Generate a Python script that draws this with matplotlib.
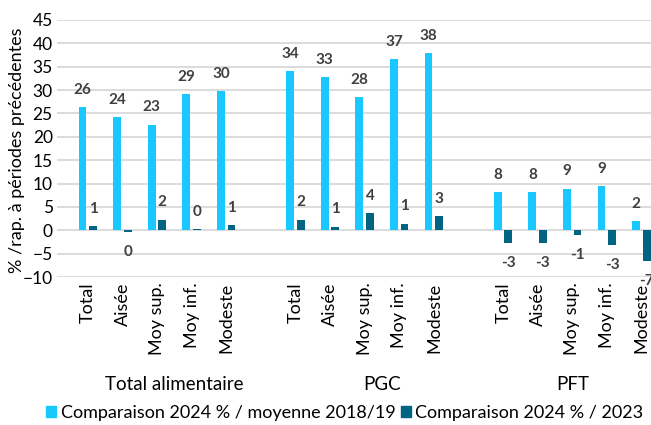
import matplotlib
matplotlib.use("Agg")
import matplotlib.pyplot as plt
import matplotlib.transforms as mtransforms
from matplotlib.patches import Patch
import numpy as np

plt.rcParams['font.family'] = ['Lato', 'DejaVu Sans']

groups = ["Total alimentaire", "PGC", "PFT"]
categories = ["Total", "Aisée", "Moy sup.", "Moy inf.", "Modeste"]
series_names = ["Comparaison 2024 % / moyenne 2018/19", "Comparaison 2024 % / 2023"]

vs_2018_19 = [26.3, 24.2, 22.6, 29.1, 29.7,
              34.0, 32.7, 28.5, 36.6, 37.9,
              8.2, 8.2, 8.9, 9.4, 1.9]
vs_2023 = [0.9, -0.3, 2.3, 0.3, 1.1,
           2.3, 0.8, 3.6, 1.4, 3.0,
           -2.7, -2.7, -1.0, -3.1, -6.6]

light = "#19C8FF"
dark = "#006482"
label_col = "#404040"

fig = plt.figure(figsize=(6.51, 4.25), dpi=100)
ax = fig.add_axes([57/651, (425-277)/425, 1-57/651, (277-20)/425])

pos = []
for g in range(len(groups)):
    for c in range(len(categories)):
        pos.append(g * (len(categories) + 1) + c)
pos = np.array(pos, dtype=float)

w = 0.225
ax.bar(pos - 0.16, vs_2018_19, width=w, color=light, zorder=3)
ax.bar(pos + 0.145, vs_2023, width=w, color=dark, zorder=3)

for x, v in zip(pos, vs_2018_19):
    ax.annotate(f"{v:.0f}", (x - 0.16, v), xytext=(0, 12.5), textcoords="offset points",
                ha="center", va="center", fontsize=11, fontweight="bold", color=label_col)
for x, v in zip(pos, vs_2023):
    off = 12.5 if v >= 0 else -14.5
    txt = f"{v:.0f}"
    if txt == "-0":
        txt = "0"
    ax.annotate(txt, (x + 0.145, v), xytext=(0, off), textcoords="offset points",
                ha="center", va="center", fontsize=11, fontweight="bold", color=label_col,
                annotation_clip=False)

ax.set_ylim(-10, 45)
ax.set_yticks(np.arange(-10, 46, 5))
ax.set_xlim(-0.9, 16.27)
ax.yaxis.grid(True, color="#D9D9D9", lw=1.3, zorder=0)
ax.set_axisbelow(True)
for s in ax.spines.values():
    s.set_visible(False)
ax.tick_params(axis="y", length=0, labelsize=12.5, pad=3, colors="black")
ax.set_xticks(pos)
ax.set_xticklabels(categories * len(groups), rotation=90, fontsize=13)
ax.tick_params(axis="x", length=0, pad=4)

trans = mtransforms.blended_transform_factory(ax.transData, fig.transFigure)
group_centers = [2.5, 8.5, 14]
for gx, gname in zip(group_centers, groups):
    ax.text(gx, (425 - 385) / 425, gname, transform=trans,
            ha="center", va="center", fontsize=13.5)

fig.text(17/651, (425-150)/425, "% /rap. à périodes précédentes", rotation=90,
         ha="center", va="center", fontsize=13)

handles = [Patch(color=light), Patch(color=dark)]
fig.legend(handles, series_names, loc="center", bbox_to_anchor=(0.53, (425-413)/425),
           ncol=2, frameon=False, fontsize=13, handlelength=0.55, handleheight=0.55,
           handletextpad=0.25, columnspacing=0.3, borderaxespad=0)

fig.savefig("out.png", dpi=100)
